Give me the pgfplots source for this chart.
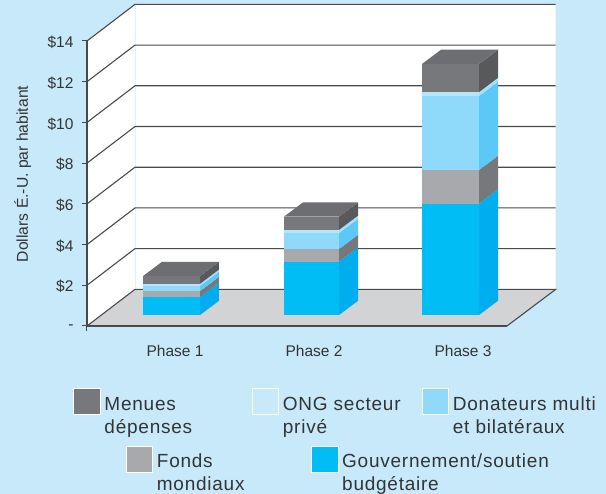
\documentclass[border=0pt]{standalone}
\usepackage{pgfplots}
\pgfplotsset{compat=1.18}
\usepackage{fontspec}
\setmainfont{Liberation Sans}
\newfontfamily\legfont[LetterSpace=4]{Liberation Sans}
\definecolor{bgc}{HTML}{C7E9FA}
\definecolor{txt}{HTML}{333436}
\definecolor{gridc}{HTML}{4A4A4C}
\definecolor{floorc}{HTML}{D1D3D4}
\definecolor{darkf}{HTML}{77787B}
\definecolor{darkt}{HTML}{6D6E71}
\definecolor{darks}{HTML}{58595B}
\definecolor{palef}{HTML}{B5E5FB}
\definecolor{pales}{HTML}{A5E0FA}
\definecolor{lbf}{HTML}{8FD9FA}
\definecolor{lbs}{HTML}{5BC8F5}
\definecolor{grayf}{HTML}{A7A9AC}
\definecolor{grays}{HTML}{77787B}
\definecolor{cyanf}{HTML}{00BDF6}
\definecolor{cyans}{HTML}{00AEEF}
\newcommand{\bw}{57}
% one stacked segment: left x, bottom value, top value, front colour, side colour
\newcommand{\seg}[5]{%
  \pgfmathsetmacro{\xr}{#1+\bw}\pgfmathsetmacro{\xs}{#1+\bw+19}%
  \pgfmathsetmacro{\ya}{#2+0.70}\pgfmathsetmacro{\yb}{#3+0.70}%
  \addplot[fill=#5,draw=none] coordinates {(\xr,#2) (\xs,\ya) (\xs,\yb) (\xr,#3)} --cycle;
  \addplot[fill=#4,draw=none] coordinates {(#1,#2) (\xr,#2) (\xr,#3) (#1,#3)} --cycle;
}
\newcommand{\topf}[2]{%
  \pgfmathsetmacro{\xr}{#1+\bw}\pgfmathsetmacro{\xs}{#1+\bw+19}\pgfmathsetmacro{\xt}{#1+19}%
  \pgfmathsetmacro{\yb}{#2+0.70}%
  \addplot[fill=darkt,draw=none] coordinates {(#1,#2) (\xr,#2) (\xs,\yb) (\xt,\yb)} --cycle;
}
\newcommand{\gridl}[1]{%
  \pgfmathsetmacro{\yb}{#1+1.80}%
  \addplot[gridc,line width=1.1pt] coordinates {(87,#1) (135,\yb) (555.7,\yb)};
}
\newcommand{\swatch}[5]{\fill[#5,draw=white,line width=0.8pt] (#1pt-87pt,326pt-#3pt) rectangle (#2pt-87pt,326pt-#4pt);}
\newcommand{\legtext}[3]{\node[anchor=base west,inner sep=0pt,font=\legfont\fontsize{19}{22}\selectfont,text=txt] at (#1pt-87pt,326pt-#2pt) {#3};}
\begin{document}
\begin{tikzpicture}
\useasboundingbox (-87pt,-168pt) rectangle (519pt,326pt);
\fill[bgc] (-87pt,-168pt) rectangle (519pt,326pt);
\begin{axis}[
  at={(0pt,0pt)},anchor=origin,
  scale only axis,width=420pt,height=285pt,
  xmin=87,xmax=507,ymin=0,ymax=14,
  clip=false,axis on top,
  axis x line=bottom,axis y line=left,
  axis line style={-,draw=gridc,line width=1.1pt},
  xtick={175,314,463},xticklabels={Phase 1,Phase 2,Phase 3},
  ytick={0,2,4,6,8,10,12,14},
  yticklabels={-,\$2,\$4,\$6,\$8,\$10,\$12,\$14},
  major x tick style={draw=none},
  major y tick style={draw=gridc,line width=1pt},
  tick align=outside,major tick length=5pt,
  tick label style={font=\fontsize{15.5}{18}\selectfont,text=txt},
  xticklabel style={yshift=-11pt},
  yticklabel style={xshift=-5pt,yshift=-1.5pt},
]
% walls
\addplot[fill=white,draw=none] coordinates {(87,0) (135,1.80) (555.7,1.80) (555.7,15.80) (135,15.80) (87,14)} --cycle;
\addplot[fill=floorc,draw=none] coordinates {(87,0) (135,1.80) (555.7,1.80) (507,0)} --cycle;
\addplot[color=bgc!60!white,line width=0.5pt] coordinates {(135,1.80) (135,15.80)};
\gridl{2}\gridl{4}\gridl{6}\gridl{8}\gridl{10}\gridl{12}\gridl{14}
\addplot[gridc,line width=1.1pt] coordinates {(87,0) (135,1.80) (555.7,1.80) (507,0)};
\addplot[gridc,line width=1pt] coordinates {(87,0) (87,-0.25)};
% Phase 1
\seg{143}{0.54}{1.42}{cyanf}{cyans}
\seg{143}{1.42}{1.71}{grayf}{grays}
\seg{143}{1.71}{1.97}{lbf}{lbs}
\seg{143}{1.97}{2.07}{palef}{pales}
\seg{143}{2.07}{2.45}{darkf}{darks}
\topf{143}{2.45}
% Phase 2
\renewcommand{\bw}{55}
\seg{284}{0.54}{3.16}{cyanf}{cyans}
\seg{284}{3.16}{3.78}{grayf}{grays}
\seg{284}{3.78}{4.57}{lbf}{lbs}
\seg{284}{4.57}{4.72}{palef}{pales}
\seg{284}{4.72}{5.37}{darkf}{darks}
\topf{284}{5.37}
% Phase 3
\renewcommand{\bw}{57}
\seg{422}{0.54}{6.01}{cyanf}{cyans}
\seg{422}{6.01}{7.66}{grayf}{grays}
\seg{422}{7.66}{11.30}{lbf}{lbs}
\seg{422}{11.30}{11.49}{palef}{pales}
\seg{422}{11.49}{12.87}{darkf}{darks}
\topf{422}{12.87}
\end{axis}
\node[rotate=90,anchor=base,inner sep=0pt,font=\fontsize{15.7}{18}\selectfont,text=txt] at (28pt-87pt,326pt-174pt) {Dollars É.-U. par habitant};
% legend
\swatch{73.3}{100}{388.3}{414.7}{darkf}
\swatch{252}{278.7}{388.3}{414.7}{bgc}
\swatch{422}{448.7}{388.3}{414.7}{lbf}
\swatch{126}{152.7}{446}{472.7}{grayf}
\swatch{311}{338}{446}{472.7}{cyanf}
\legtext{104.3}{410.3}{Menues}\legtext{104.3}{433.3}{dépenses}
\legtext{282.7}{410.3}{ONG secteur}\legtext{282.7}{433.3}{privé}
\legtext{452.7}{410.3}{Donateurs multi}\legtext{452.7}{433.3}{et bilatéraux}
\legtext{156.7}{467.3}{Fonds}\legtext{156.7}{490.7}{mondiaux}
\legtext{342}{467.3}{Gouvernement/soutien}\legtext{342}{490.7}{budgétaire}
\end{tikzpicture}
\end{document}
